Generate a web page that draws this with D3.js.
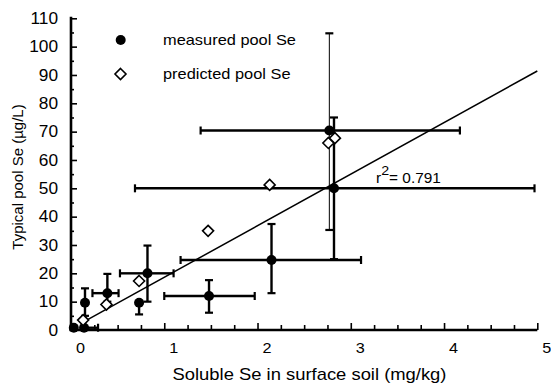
<!DOCTYPE html>
<html><head><meta charset="utf-8">
<script src="https://cdn.jsdelivr.net/npm/d3@7"></script>
<style>
html,body{margin:0;padding:0;background:#fff;}
svg{display:block;font-family:"Liberation Sans",Arial,sans-serif;}
</style></head>
<body>
<svg id="chart" width="551" height="384"></svg>
<script>
// Measured pool Se (filled circles) with error bars
const measX    = [0.03, 0.14, 0.15, 0.39, 0.73, 0.82, 1.48, 2.15, 2.82, 2.77];
const measY    = [0.8,  0.8,  9.6,  13,   9.6,  20,   12,   24.7, 50,   70.4];
const measYLow = [null, null, 5,    10,   5.5,  10,   6.1,  13,   25,   35.3];
const measYHigh= [null, null, 14.7, 19.8, null, 29.8, 17.6, 37.4, 75,   104.7];
const measXLow = [null, null, null, 0.23, null, 0.525,1.0,  1.175,0.686,1.39];
const measXHigh= [null, 0.29, null, 0.51, null, 1.1,  1.97, 3.11, 4.97, 4.17];
const measThin = [false,false,false,false,false,false,false,false,false,true];
// Predicted pool Se (open diamonds)
const predX = [0.13, 0.38, 0.73, 1.47, 2.13, 2.76, 2.83];
const predY = [3.5,  9,    17.3, 35,   51.2, 66,   67.7];
// Regression line
const fitSlope = 18.2, fitIntercept = 0.4, fitFrom = 0.12, fitTo = 5;
const r2Label = "0.791";
// Axes
const xMajor = [0,1,2,3,4,5];
const xMinor = d3.range(0.25, 5, 0.25).filter(v => Math.abs(v - Math.round(v)) > 1e-6);
const yMajor = d3.range(0, 111, 10);
const yMinor = d3.range(5, 110, 10);
const xTitle = "Soluble Se in surface soil (mg/kg)";
const yTitle = "Typical pool Se (µg/L)";
const legendLabels = ["measured pool Se", "predicted pool Se"];

const svg = d3.select("#chart");
const x = d3.scaleLinear().domain([0,5]).range([71, 537.3]);
const y = d3.scaleLinear().domain([0,110]).range([330, 18.3]);

// Axes
const gx = svg.append("g").attr("transform","translate(0,330)");
gx.call(d3.axisBottom(x).tickValues(xMinor).tickSize(-5).tickSizeOuter(0).tickFormat(""));
gx.select(".domain").remove();
const gx2 = svg.append("g").attr("transform","translate(0,330)");
gx2.call(d3.axisBottom(x).tickValues(xMajor).tickSizeInner(-7).tickSizeOuter(0).tickPadding(12).tickFormat(d3.format("d")));
gx2.selectAll("text").attr("dx", 8.3).attr("transform","scale(1.08,1)").style("font-size","15px").attr("fill","#000");

const gy = svg.append("g").attr("transform","translate(71,0)");
gy.call(d3.axisLeft(y).tickValues(yMinor).tickSize(-3).tickSizeOuter(0).tickFormat(""));
gy.select(".domain").remove();
const gy2 = svg.append("g").attr("transform","translate(71,0)");
gy2.call(d3.axisLeft(y).tickValues(yMajor).tickSizeInner(-6).tickSizeOuter(0).tickPadding(12).tickFormat(d3.format("d")));
gy2.selectAll("text").attr("transform","scale(1.08,1)").style("font-size","16px").attr("fill","#000");

svg.selectAll(".tick line").attr("stroke","#000").attr("stroke-width",1.6);
svg.selectAll(".domain").attr("stroke","#000").attr("stroke-width",2.6);
gy2.select(".domain").attr("d", `M0,${y(0)+1}V${y(110)-1.5}`);
gx2.select(".domain").attr("d", `M${x(0)-1.5},0H${x(5)}`);

// Error bars
const eb = svg.append("g").attr("stroke","#000").attr("fill","none");
const cap = 4;
measX.forEach((mx, i) => {
  const sw = measThin[i] ? 1 : 2.4;
  const px = x(mx), py = y(measY[i]);
  if (measYHigh[i] != null) {
    eb.append("line").attr("x1",px).attr("x2",px).attr("y1",py).attr("y2",y(measYHigh[i])).attr("stroke-width",sw);
    eb.append("line").attr("x1",px-cap).attr("x2",px+cap).attr("y1",y(measYHigh[i])).attr("y2",y(measYHigh[i])).attr("stroke-width",2.2);
  }
  if (measYLow[i] != null) {
    eb.append("line").attr("x1",px).attr("x2",px).attr("y1",py).attr("y2",y(measYLow[i])).attr("stroke-width",sw);
    eb.append("line").attr("x1",px-cap).attr("x2",px+cap).attr("y1",y(measYLow[i])).attr("y2",y(measYLow[i])).attr("stroke-width",2.2);
  }
  if (measXHigh[i] != null) {
    eb.append("line").attr("x1",px).attr("x2",x(measXHigh[i])).attr("y1",py).attr("y2",py).attr("stroke-width",2.4);
    eb.append("line").attr("x1",x(measXHigh[i])).attr("x2",x(measXHigh[i])).attr("y1",py-cap).attr("y2",py+cap).attr("stroke-width",2.2);
  }
  if (measXLow[i] != null) {
    eb.append("line").attr("x1",px).attr("x2",x(measXLow[i])).attr("y1",py).attr("y2",py).attr("stroke-width",2.4);
    eb.append("line").attr("x1",x(measXLow[i])).attr("x2",x(measXLow[i])).attr("y1",py-cap).attr("y2",py+cap).attr("stroke-width",2.2);
  }
});

// Regression line
svg.append("line")
  .attr("x1", x(fitFrom)).attr("y1", y(fitSlope*fitFrom + fitIntercept))
  .attr("x2", x(fitTo)).attr("y2", y(fitSlope*fitTo + fitIntercept))
  .attr("stroke","#000").attr("stroke-width",1.5);

// Markers
const diamond = "M0,-5.5L5.5,0L0,5.5L-5.5,0Z";
svg.append("g").selectAll("circle").data(measX).join("circle")
  .attr("cx", d => x(d)).attr("cy", (d,i) => y(measY[i])).attr("r", 5).attr("fill","#000");
svg.append("g").selectAll("path").data(predX).join("path")
  .attr("d", diamond)
  .attr("transform", (d,i) => `translate(${x(d)},${y(predY[i])})`)
  .attr("fill","#fff").attr("stroke","#000").attr("stroke-width",1.6);

// r^2 label
const r2 = svg.append("text").attr("transform","translate(376,183) scale(1.1,1)").style("font-size","14px").attr("fill","#000");
r2.append("tspan").text("r");
r2.append("tspan").attr("dy", -8).style("font-size","13px").text("2");
r2.append("tspan").attr("dy", 8).text("= " + r2Label);

// Legend
svg.append("circle").attr("cx",120.7).attr("cy",40).attr("r",5).attr("fill","#000");
svg.append("path").attr("d", diamond).attr("transform","translate(120.5,74)")
  .attr("fill","#fff").attr("stroke","#000").attr("stroke-width",1.6);
svg.append("text").attr("transform","translate(163,45) scale(1.13,1)").style("font-size","14.5px").text(legendLabels[0]);
svg.append("text").attr("transform","translate(163,79) scale(1.13,1)").style("font-size","14.5px").text(legendLabels[1]);

// Titles
svg.append("text").attr("transform","translate(309.5,379.5) scale(1.15,1)").attr("text-anchor","middle")
  .style("font-size","16px").text(xTitle);
svg.append("text").attr("transform","translate(23,177) rotate(-90)").attr("text-anchor","middle")
  .style("font-size","15px").text(yTitle);
</script>
</body></html>
